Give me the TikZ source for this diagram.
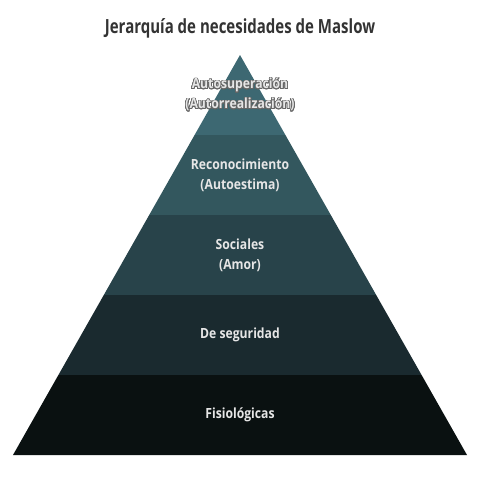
\documentclass[tikz,border=0pt]{standalone}
\usepackage{fontspec}
\setmainfont{Open Sans}[FakeStretch=0.77]
\newfontfamily\lblfont{Open Sans}[FakeStretch=0.87]
\usepackage{contour}
\contourlength{0.7pt}
\contournumber{24}
\definecolor{lone}{HTML}{3D6872}
\definecolor{ltwo}{HTML}{33575E}
\definecolor{lthree}{HTML}{28434A}
\definecolor{lfour}{HTML}{1A2A2F}
\definecolor{lfive}{HTML}{0A1111}
\definecolor{txt}{HTML}{E6E6E6}
\definecolor{ttl}{HTML}{333333}
\definecolor{halo}{HTML}{666666}
\tikzset{
  lbl/.style={font=\lblfont\bfseries\fontsize{14}{20}\selectfont, text=txt, align=center, inner sep=0pt},
}
\begin{document}
\begin{tikzpicture}[x=1pt,y=-1pt]
\useasboundingbox (0,0) rectangle (480,480);
% pyramid layers: apex (240,55), base y=455 from x=13 to 467
\foreach \ya/\yb/\c in {55/135/lone,135/215/ltwo,215/295/lthree,295/375/lfour,375/455/lfive}{
  \fill[\c] ({240-0.5675*(\ya-55)},\ya) -- ({240+0.5675*(\ya-55)},\ya) -- ({240+0.5675*(\yb-55)},\yb) -- ({240-0.5675*(\yb-55)},\yb) -- cycle;
}
\node[font=\bfseries\fontsize{19.5}{24}\selectfont, text=ttl, inner sep=0pt] (title) at (240,28) {Jerarquía de necesidades de Maslow};
\node[lbl] (l1) at (240,95) {\contour{halo}{Autosuperación}\\\contour{halo}{(Autorrealización)}};
\node[lbl] (l2) at (240,175) {Reconocimiento\\(Autoestima)};
\node[lbl] (l3) at (240,255) {Sociales\\(Amor)};
\node[lbl] (l4) at (240,335) {De seguridad};
\node[lbl] (l5) at (240,415) {Fisiológicas};
\end{tikzpicture}
\end{document}
